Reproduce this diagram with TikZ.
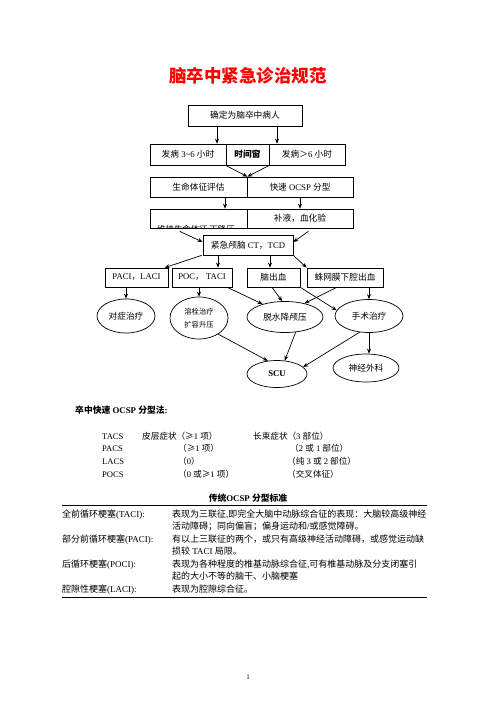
\documentclass[tikz,border=0pt]{standalone}
\usepackage{fontspec}
\setmainfont{Liberation Serif}
\newfontfamily\cjk{Noto Sans CJK SC}
\newcommand\zhc[1]{{\cjk #1}}
\usetikzlibrary{shapes.geometric,arrows.meta}
\begin{document}
\begin{tikzpicture}[x=1pt,y=-1pt,
  box/.style={draw,line width=0.7pt,inner sep=0pt,minimum height=20pt,font=\fontsize{8.7}{10}\selectfont},
  ell/.style={draw,ellipse,line width=0.7pt,inner sep=0pt,font=\fontsize{8.7}{10}\selectfont},
  arr/.style={line width=0.7pt,-{Stealth[length=5pt,width=4pt]}},
  txt/.style={anchor=base west,inner sep=0pt,font=\fontsize{8.6}{10}\selectfont},
  tb/.style={anchor=base west,inner sep=0pt,font=\fontsize{9}{10}\selectfont}]
\useasboundingbox (0,0) rectangle (496,702);
\fill[white] (0,0) rectangle (496,702);

\node[text=red,font=\fontsize{17.5}{20}\selectfont\cjk\bfseries] (title) at (248,76) {脑卒中紧急诊治规范};

\node[box,minimum width=114pt,minimum height=21pt] (b1) at (245,115.5) {\zhc{确定为脑卒中病人}};
\node[box,minimum width=76pt,minimum height=21pt] (l2) at (188,154.5) {\zhc{发病} 3\textasciitilde6 \zhc{小时}};
\node[box,minimum width=76pt,minimum height=21pt] (r2) at (307,154.5) {\zhc{发病＞}6 \zhc{小时}};
\node[box,fill=white,minimum width=43pt,minimum height=21pt,font=\fontsize{8.7}{10}\selectfont\cjk\bfseries] (m2) at (247.5,154.5) {时间窗};

\draw[arr] ([xshift=-28]b1.south) -- ([xshift=-28]b1.south |- l2.north);
\draw[arr] ([xshift=32]b1.south) -- ([xshift=32]b1.south |- r2.north);

\node[box,minimum width=97pt] (l3) at (198.5,187) {\zhc{生命体征评估}};
\node[box,minimum width=106pt] (r3) at (300,187) {\zhc{快速} OCSP \zhc{分型}};
\draw[arr] (m2.south west) -- (l3.north east);
\draw[arr] (m2.south east) -- (l3.north east);

\node[box,minimum width=97pt,minimum height=19pt] (l4) at (198.5,218.5) {};
\node[box,minimum width=106pt,minimum height=19pt] (r4) at (300,218.5) {\zhc{补液，血化验}};
\begin{scope}
\clip (l4.north west) rectangle (l4.south east);
\node[txt,font=\fontsize{8.4}{10}\selectfont] (l4t) at (157,232) {\zhc{维持生命体征 下降压}};
\end{scope}
\draw[arr] ([xshift=26.5]l3.south) -- ([xshift=26.5]l4.north);
\draw[arr] (r3.south) -- (r4.north);

\node[box,minimum width=90pt] (ct) at (248,245) {\zhc{紧急颅脑} CT\zhc{，}TCD};
\draw[arr] ([xshift=30,yshift=-3]l4.south west) -- ([yshift=3]ct.west);
\draw[arr] ([xshift=-45,yshift=-3]r4.south east) -- ([yshift=3]ct.east);

\node[box,minimum width=63pt,minimum height=19pt] (p1) at (136.5,277.5) {PACI\zhc{，}LACI};
\node[box,minimum width=60pt,minimum height=19pt] (p2) at (202,277.5) {POC\zhc{，} TACI};
\node[box,minimum width=53pt,minimum height=19pt] (p3) at (273.5,277.5) {\zhc{脑出血}};
\node[box,minimum width=76pt,minimum height=19pt] (p4) at (345,277.5) {\zhc{蛛网膜下腔出血}};

\draw[arr] ([xshift=-1]ct.south west) -- ([xshift=60]p1.north west);
\draw[arr] ([xshift=-30]ct.south) -- ([xshift=-30]ct.south |- p2.north);
\draw[arr] ([xshift=22]ct.south) -- ([xshift=22]ct.south |- p3.north);
\draw[arr] (ct.south east) -- (p4.north west);

\node[ell,minimum width=58pt,minimum height=34pt] (e1) at (126,316) {\zhc{对症治疗}};
\node[ell,minimum width=58pt,minimum height=42pt,align=center,font=\fontsize{7.3}{13}\selectfont] (e2) at (199,318) {\zhc{溶栓治疗}\\\zhc{扩容升压}};
\node[ell,minimum width=76pt,minimum height=31pt] (e3) at (285,317) {\zhc{脱水降颅压}};
\node[ell,minimum width=68pt,minimum height=33pt] (e4) at (369,316) {\zhc{手术治疗}};
\node[ell,minimum width=60pt,minimum height=27pt] (e5) at (277,374) {\textbf{SCU}};
\node[ell,minimum width=66pt,minimum height=28pt] (e6) at (366,368) {\zhc{神经外科}};

\draw[arr] (e1.north |- p1.south) -- (e1.north);
\draw[arr] (e2.north |- p2.south) -- (e2.north);
\draw[arr] ([xshift=-5]p2.south east) -- (e3.150);
\draw[arr] ([xshift=-1.5]p3.south) -- (e3.100);
\draw[arr] (p3.south east) -- (e4.170);
\draw[arr] ([xshift=30]p4.south west) -- (e3.35);
\draw[arr] (e4.north |- p4.south) -- (e4.north);
\draw[arr] (e2.-40) -- (e5.125);
\draw[arr] (e3.-55) -- (e5.60);
\draw[arr] (e4.-120) -- (e5.15);
\draw[arr] (e4.south) -- (e4.south |- e6.north);

\node[txt,font=\fontsize{8.8}{10}\selectfont\bfseries] (h1) at (75,413) {\zhc{卒中快速} OCSP \zhc{分型法}:};

\node[txt] (a1) at (102,439) {TACS};
\node[txt] (a2) at (142,439) {\zhc{皮层症状（≥}1 \zhc{项）}};
\node[txt] (a3) at (253,439) {\zhc{长束症状（}3 \zhc{部位）}};
\node[txt] (b1t) at (102,451.5) {PACS};
\node[txt] (b2) at (178,451.5) {\zhc{（≥}1 \zhc{项）}};
\node[txt] (b3) at (290,451.5) {\zhc{（}2 \zhc{或} 1 \zhc{部位）}};
\node[txt] (c1) at (102,464) {LACS};
\node[txt] (c2) at (178,464) {\zhc{（}0\zhc{）}};
\node[txt] (c3) at (287,464) {\zhc{（纯} 3 \zhc{或} 2 \zhc{部位）}};
\node[txt] (d1) at (102,477) {POCS};
\node[txt] (d2) at (178,477) {\zhc{（}0 \zhc{或≥}1 \zhc{项）}};
\node[txt] (d3) at (287,477) {\zhc{（交叉体征）}};

\node[font=\fontsize{8.8}{10}\selectfont\bfseries,inner sep=0pt] (h2) at (248,498) {\zhc{传统}OCSP \zhc{分型标准}};
\draw[line width=0.8pt] (62,505) -- (427,505);
\draw[line width=0.8pt] (62,597) -- (427,597);

\node[tb] (t1) at (62,517) {\zhc{全前循环梗塞}(TACI):};
\node[tb] (t1a) at (172,517) {\zhc{表现为三联征},\zhc{即完全大脑中动脉综合征的表现：大脑较高级神经}};
\node[tb] (t1b) at (172,529) {\zhc{活动障碍；同向偏盲；偏身运动和}/\zhc{或感觉障碍。}};
\node[tb] (t2) at (62,542) {\zhc{部分前循环梗塞}(PACI):};
\node[tb] (t2a) at (172,542) {\zhc{有以上三联征的两个，或只有高级神经活动障碍，或感觉运动缺}};
\node[tb] (t2b) at (172,554) {\zhc{损较} TACI \zhc{局限。}};
\node[tb] (t3) at (62,567) {\zhc{后循环梗塞}(POCI):};
\node[tb] (t3a) at (172,567) {\zhc{表现为各种程度的椎基动脉综合征},\zhc{可有椎基动脉及分支闭塞引}};
\node[tb] (t3b) at (172,579) {\zhc{起的大小不等的脑干、小脑梗塞}};
\node[tb] (t4) at (62,592) {\zhc{腔隙性梗塞}(LACI):};
\node[tb] (t4a) at (172,592) {\zhc{表现为腔隙综合征。}};

\node[font=\fontsize{7}{8}\selectfont,inner sep=0pt] (pg) at (248,677) {1};
\end{tikzpicture}
\end{document}
